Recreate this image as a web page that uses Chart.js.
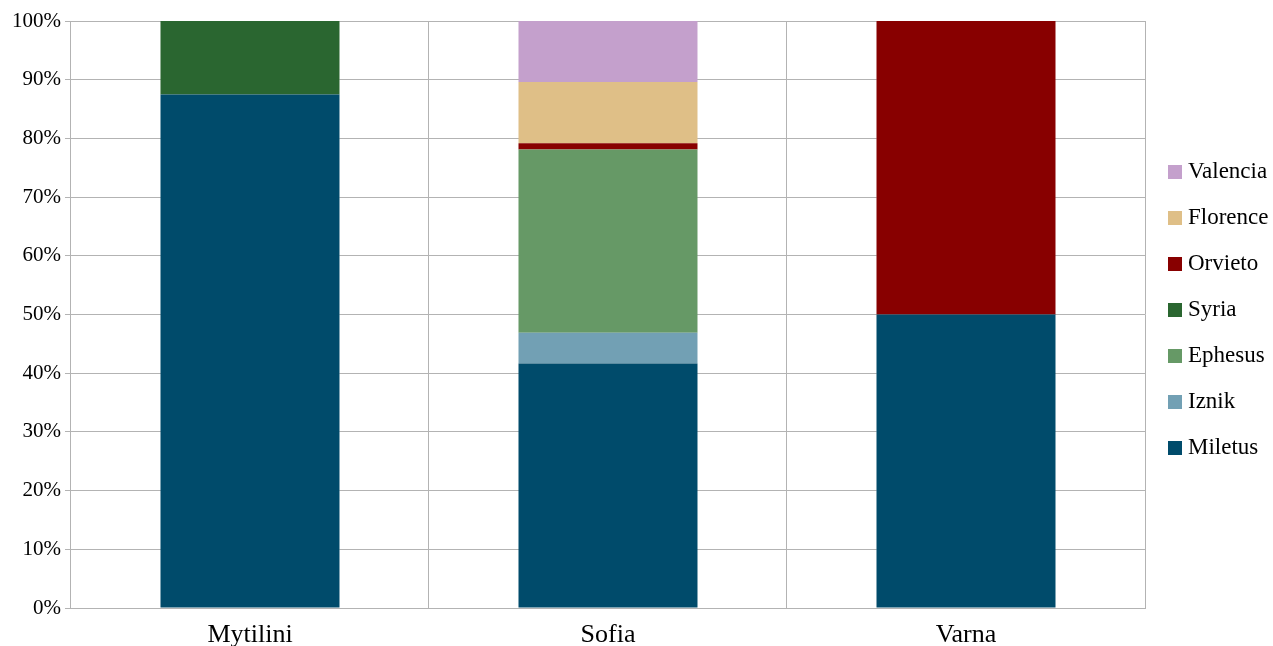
<!DOCTYPE html>
<html>
<head>
<meta charset="utf-8">
<script src="https://cdn.jsdelivr.net/npm/chart.js@4/dist/chart.umd.min.js"></script>
<style>
    html, body { margin: 0; padding: 0; background: #fff; }
    #wrap { position: relative; width: 1273px; height: 646px; }
    #legend { position: absolute; left: 1168px; top: 158px; font-family: "Liberation Serif", "DejaVu Serif", serif; font-size: 23px; color: #000; }
    #legend div { height: 46px; display: flex; align-items: flex-start; white-space: nowrap; }
    #legend span.box { display: inline-block; width: 14px; height: 14px; margin: 7px 6px 0 0; }
</style>
</head>
<body>
<div id="wrap">
    <canvas id="chart" width="1273" height="646"></canvas>
    <div id="legend"></div>
</div>
<script>
// Categorias y series (porcentaje de cada sitio)
var categorias = ["Mytilini", "Sofia", "Varna"];
var miletus  = [87.5, 41.67, 50];
var iznik    = [0, 5.21, 0];
var ephesus  = [0, 31.25, 0];
var syria    = [12.5, 0, 0];
var orvieto  = [0, 1.04, 50];
var florence = [0, 10.42, 0];
var valencia = [0, 10.41, 0];
var ticksY = [0, 10, 20, 30, 40, 50, 60, 70, 80, 90, 100];

var series = [
    { label: "Miletus",  data: miletus,  color: "#004b6b" },
    { label: "Iznik",    data: iznik,    color: "#72a0b4" },
    { label: "Ephesus",  data: ephesus,  color: "#669966" },
    { label: "Syria",    data: syria,    color: "#2a6630" },
    { label: "Orvieto",  data: orvieto,  color: "#880000" },
    { label: "Florence", data: florence, color: "#dfbf87" },
    { label: "Valencia", data: valencia, color: "#c4a0cc" }
];

var fuente = "'Liberation Serif', 'DejaVu Serif', serif";

var chart = new Chart(document.getElementById("chart").getContext("2d"), {
    type: "bar",
    data: {
        labels: categorias,
        datasets: series.map(function (s) {
            return {
                label: s.label,
                data: s.data,
                backgroundColor: s.color,
                borderWidth: 0,
                categoryPercentage: 1,
                barPercentage: 0.5
            };
        })
    },
    options: {
        responsive: false,
        animation: false,
        layout: { padding: { top: 21, right: 128, left: 8, bottom: 0 } },
        plugins: { legend: { display: false }, tooltip: { enabled: false } },
        scales: {
            x: {
                stacked: true,
                grid: { color: "#b3b3b3", offset: true, tickLength: 0 },
                border: { color: "#b3b3b3" },
                ticks: { color: "#000", font: { family: fuente, size: 26, lineHeight: 0.9 }, padding: 15 },
                afterFit: function (axis) { axis.height = 38; }
            },
            y: {
                stacked: true,
                min: 0,
                max: 100,
                afterBuildTicks: function (axis) {
                    axis.ticks = ticksY.map(function (v) { return { value: v }; });
                },
                grid: { color: "#b3b3b3", tickLength: 6 },
                border: { color: "#b3b3b3" },
                ticks: {
                    color: "#000",
                    font: { family: fuente, size: 21 },
                    padding: 4,
                    callback: function (v) { return v + "%"; }
                }
            }
        }
    }
});

// Leyenda en orden inverso
var html = "";
series.slice().reverse().forEach(function (s) {
    html += "<div><span class='box' style='background:" + s.color + "'></span>" + s.label + "</div>";
});
document.getElementById("legend").innerHTML = html;
</script>
</body>
</html>
